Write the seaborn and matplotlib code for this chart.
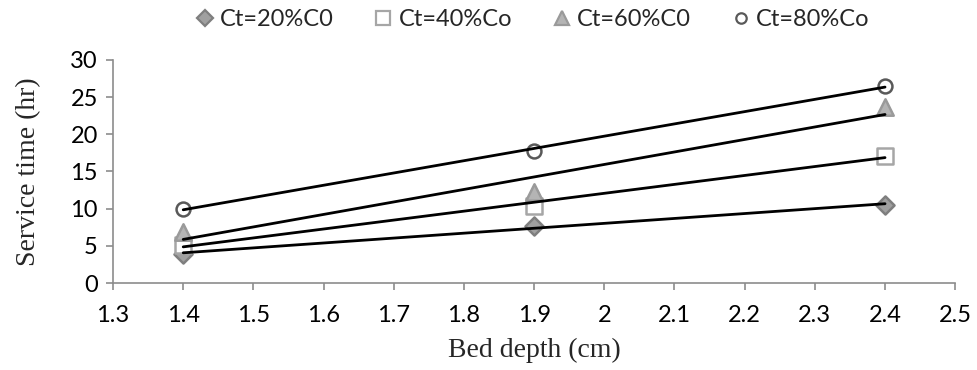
import numpy as np
import pandas as pd
import matplotlib
matplotlib.use("Agg")
import matplotlib.pyplot as plt
import seaborn as sns
from matplotlib.lines import Line2D

bed_depth = [1.4, 1.9, 2.4]
ct20 = [3.9, 7.7, 10.5]
ct40 = [5.1, 10.4, 17.1]
ct60 = [6.9, 12.2, 23.7]
ct80 = [10.0, 17.8, 26.5]
series_names = ["Ct=20%C0", "Ct=40%Co", "Ct=60%C0", "Ct=80%Co"]
x_ticks = [1.3, 1.4, 1.5, 1.6, 1.7, 1.8, 1.9, 2.0, 2.1, 2.2, 2.3, 2.4, 2.5]
x_tick_labels = ["1.3", "1.4", "1.5", "1.6", "1.7", "1.8", "1.9", "2", "2.1", "2.2", "2.3", "2.4", "2.5"]
y_ticks = [0, 5, 10, 15, 20, 25, 30]

sns.set_theme(style="white")
plt.rcParams['font.family'] = ['Lato', 'DejaVu Sans']

fig = plt.figure(figsize=(9.77, 3.70), dpi=100)
ax = fig.add_axes([0.1157, 0.235, 0.862, 0.603])

styles = [
    dict(marker="D", s=85, ms=8, facecolor="#a0a0a0", edgecolor="#7f7f7f"),
    dict(marker="s", s=130, ms=10, facecolor="white", edgecolor="#a6a6a6"),
    dict(marker="^", s=140, ms=10, facecolor="#b4b4b4", edgecolor="#9a9a9a"),
    dict(marker="o", s=100, ms=7.5, facecolor="white", edgecolor="#595959"),
]

df = pd.DataFrame({"x": bed_depth * 4,
                   "y": ct20 + ct40 + ct60 + ct80,
                   "series": sum([[n] * 3 for n in series_names], [])})

handles = []
for name, st in zip(series_names, styles):
    sub = df[df["series"] == name]
    sns.scatterplot(data=sub, x="x", y="y", ax=ax, marker=st["marker"], s=st["s"],
                    color=st["facecolor"], edgecolor=st["edgecolor"], linewidth=1.8,
                    zorder=2, legend=False)
    handles.append(Line2D([], [], linestyle="none", marker=st["marker"],
                          markersize=st["ms"],
                          markerfacecolor=st["facecolor"], markeredgecolor=st["edgecolor"],
                          markeredgewidth=1.6, label=name))
for name in series_names:
    sub = df[df["series"] == name]
    sns.regplot(data=sub, x="x", y="y", ax=ax, scatter=False, ci=None, truncate=True,
                line_kws=dict(color="black", linewidth=2, zorder=3))

ax.set_xlim(1.3, 2.5)
ax.set_ylim(0, 30)
ax.set_xticks(x_ticks)
ax.set_xticklabels(x_tick_labels)
ax.set_yticks(y_ticks)
ax.tick_params(axis="both", which="major", labelsize=17, length=5, width=1.2,
               color="#8c8c8c", direction="out", bottom=True, left=True, labelcolor="black")
ax.tick_params(axis="x", pad=11)
ax.tick_params(axis="y", pad=6)
for side in ["top", "right"]:
    ax.spines[side].set_visible(False)
for side in ["left", "bottom"]:
    ax.spines[side].set_color("#8c8c8c")
    ax.spines[side].set_linewidth(1.2)

ax.set_xlabel("Bed depth (cm)", family="Liberation Serif", fontsize=20, labelpad=8)
ax.set_ylabel("Service time (hr)", family="Liberation Serif", fontsize=20, labelpad=21)

fig.legend(handles=handles, loc="center", bbox_to_anchor=(0.545, 0.946), ncol=4,
           frameon=False, fontsize=17, handletextpad=0.25, columnspacing=1.7,
           handlelength=0.8)

fig.savefig("out.png", dpi=100)
